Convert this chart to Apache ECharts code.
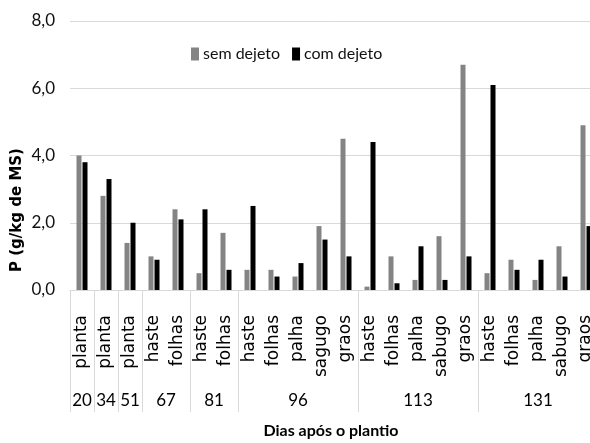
<!DOCTYPE html>
<html>
<head>
<meta charset="utf-8">
<script src="https://cdn.jsdelivr.net/npm/echarts@6/dist/echarts.min.js"></script>
<style>
  html, body { margin: 0; padding: 0; background: #fff; }
  #chart { width: 590px; height: 443px; }
</style>
</head>
<body>
<div id="chart"></div>
<script>
// Plant part sampled at each date (first level of the x axis)
const categories = ['planta', 'planta', 'planta', 'haste', 'folhas', 'haste', 'folhas',
  'haste', 'folhas', 'palha', 'sagugo', 'graos',
  'haste', 'folhas', 'palha', 'sabugo', 'graos',
  'haste', 'folhas', 'palha', 'sabugo', 'graos'];

// P content (g/kg DM) per treatment
const semDejeto = [4.0, 2.8, 1.4, 1.0, 2.4, 0.5, 1.7, 0.6, 0.6, 0.4, 1.9, 4.5,
  0.1, 1.0, 0.3, 1.6, 6.7, 0.5, 0.9, 0.3, 1.3, 4.9];
const comDejeto = [3.8, 3.3, 2.0, 0.9, 2.1, 2.4, 0.6, 2.5, 0.4, 0.8, 1.5, 1.0,
  4.4, 0.2, 1.3, 0.3, 1.0, 6.1, 0.6, 0.9, 0.4, 1.9];

// Days after planting (second level of the x axis) and how many parts each spans
const dayGroups = ['20', '34', '51', '67', '81', '96', '113', '131'];
const groupSizes = [1, 1, 1, 2, 2, 5, 5, 5];

const yTickLabels = ['0,0', '2,0', '4,0', '6,0', '8,0'];

// Second-level axis works on half-category slots so that group centres
// and group boundaries both fall on slot positions.
const slotCount = categories.length * 2 + 1;
const groupSlots = new Array(slotCount).fill('');
const boundarySlots = new Set();
let start = 0;
dayGroups.forEach((g, i) => {
  boundarySlots.add(start * 2);
  groupSlots[start * 2 + groupSizes[i]] = g;
  start += groupSizes[i];
});
boundarySlots.add(start * 2);

const narrow = 'Lato, "Noto Sans", sans-serif';
const wide = '"DejaVu Sans", Verdana, sans-serif';
const lineGray = '#d9d9d9';

const chart = echarts.init(document.getElementById('chart'), null, { renderer: 'canvas' });
chart.setOption({
  animation: false,
  backgroundColor: '#fff',
  // plot runs past the right edge of the canvas, last category is cut off
  grid: { left: 70, top: 21, width: 528, bottom: 153, containLabel: false, outerBoundsMode: 'none' },
  legend: {
    left: 186, top: 41,
    itemWidth: 8, itemHeight: 13, itemGap: 12,
    icon: 'rect',
    textStyle: { fontFamily: narrow, fontSize: 16, color: '#111', padding: [0, 0, 0, -1] },
    data: ['sem dejeto', 'com dejeto']
  },
  xAxis: [
    {
      type: 'category',
      data: categories,
      position: 'bottom',
      axisLine: { show: true, lineStyle: { color: lineGray, width: 1 } },
      axisTick: { show: false },
      axisLabel: {
        interval: 0, rotate: 90, margin: 25,
        fontFamily: wide, fontSize: 17, color: '#000'
      },
      splitLine: { show: false }
    },
    {
      type: 'category',
      data: groupSlots,
      boundaryGap: false,
      position: 'bottom',
      axisLine: { show: false },
      axisTick: {
        show: true,
        length: 122,
        interval: (index) => boundarySlots.has(index),
        lineStyle: { color: lineGray, width: 1 }
      },
      axisLabel: {
        interval: 0, margin: 102,
        fontFamily: narrow, fontSize: 17, color: '#000'
      },
      splitLine: { show: false }
    }
  ],
  yAxis: {
    type: 'value',
    min: 0, max: 8, interval: 2,
    axisLine: { show: false },
    axisTick: { show: false },
    axisLabel: {
      margin: 15,
      fontFamily: narrow, fontSize: 17, color: '#111',
      formatter: (v) => yTickLabels[Math.round(v / 2)]
    },
    splitLine: { lineStyle: { color: lineGray, width: 1 } }
  },
  series: [
    {
      name: 'sem dejeto', type: 'bar', xAxisIndex: 0,
      data: semDejeto, barWidth: 5, barGap: '20%',
      itemStyle: { color: '#848484' }
    },
    {
      name: 'com dejeto', type: 'bar', xAxisIndex: 0,
      data: comDejeto, barWidth: 5, barGap: '20%',
      itemStyle: { color: '#000' }
    }
  ],
  graphic: [
    {
      type: 'text',
      x: 17, y: 210, rotation: Math.PI / 2,
      style: {
        text: 'P (g/kg de MS)',
        font: 'bold 15px ' + wide,
        fill: '#000',
        align: 'center', verticalAlign: 'middle'
      }
    },
    {
      type: 'text',
      x: 331, y: 431,
      style: {
        text: 'Dias após o plantio',
        font: 'bold 16px ' + narrow,
        fill: '#000',
        align: 'center', verticalAlign: 'middle'
      }
    }
  ]
});
</script>
</body>
</html>
